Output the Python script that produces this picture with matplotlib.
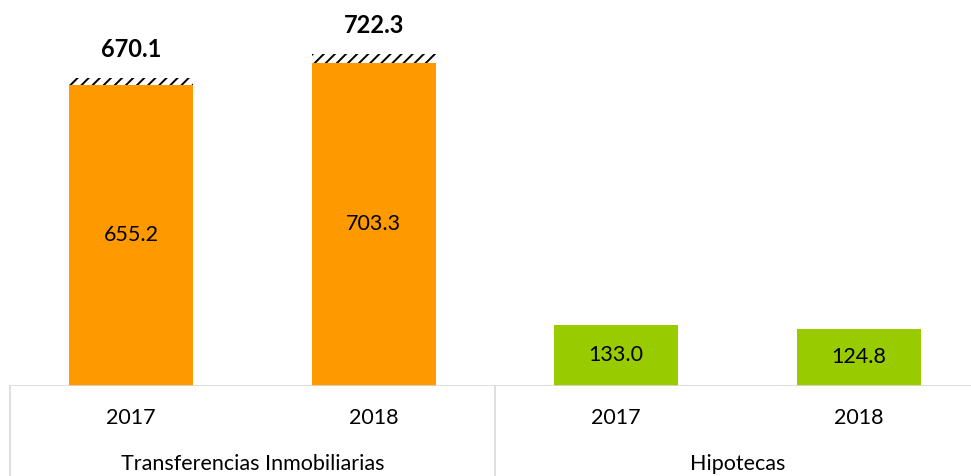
import numpy as np
import matplotlib.pyplot as plt

plt.rcParams['font.family'] = ['Lato', 'DejaVu Sans']
plt.rcParams['hatch.linewidth'] = 1.4

# data
groups = ['Transferencias Inmobiliarias', 'Hipotecas']
years = ['2017', '2018', '2017', '2018']
base_vals = [655.2, 703.3, 133.0, 124.8]
totals = [670.1, 722.3, None, None]
bar_colors = ['#FF9900', '#FF9900', '#99CC00', '#99CC00']

fig = plt.figure(figsize=(9.71, 4.76), dpi=100)
ax = fig.add_axes([10 / 971, 90 / 476, 970 / 971, 386 / 476])

x = np.arange(len(base_vals))
ax.bar(x, base_vals, width=0.51, color=bar_colors, zorder=2)

# hatched remainder on top of the orange bars
for i, t in enumerate(totals):
    if t is None:
        continue
    ax.bar(x[i], t - base_vals[i], bottom=base_vals[i], width=0.51,
           color='white', edgecolor='black', linewidth=0, hatch='///', zorder=2)
    ax.annotate(f'{t:.1f}', (x[i], t), xytext=(0, 12), textcoords='offset points',
                ha='center', va='bottom', fontsize=17, fontweight='bold')

for i, v in enumerate(base_vals):
    ax.text(x[i], v / 2, f'{v:.1f}', ha='center', va='center', fontsize=15.5)

ax.set_xlim(-0.5, 3.5)
ax.set_ylim(0, 840)
ax.axis('off')

# category box lines below the axis
line_col = '#d9d9d9'
ax.axhline(0, color=line_col, lw=1.2, zorder=3)
for xv in [-0.5, 1.5]:
    ax.plot([xv, xv], [0, -90 / 386 * 840], color=line_col, lw=1.2, clip_on=False)

for i, yr in enumerate(years):
    ax.text(x[i], -32 / 386 * 840, yr, ha='center', va='center', fontsize=15.5)
for j, g in enumerate(groups):
    ax.text(0.5 + 2 * j, -78 / 386 * 840, g, ha='center', va='center', fontsize=15.5)

fig.savefig('out.png', dpi=100)
